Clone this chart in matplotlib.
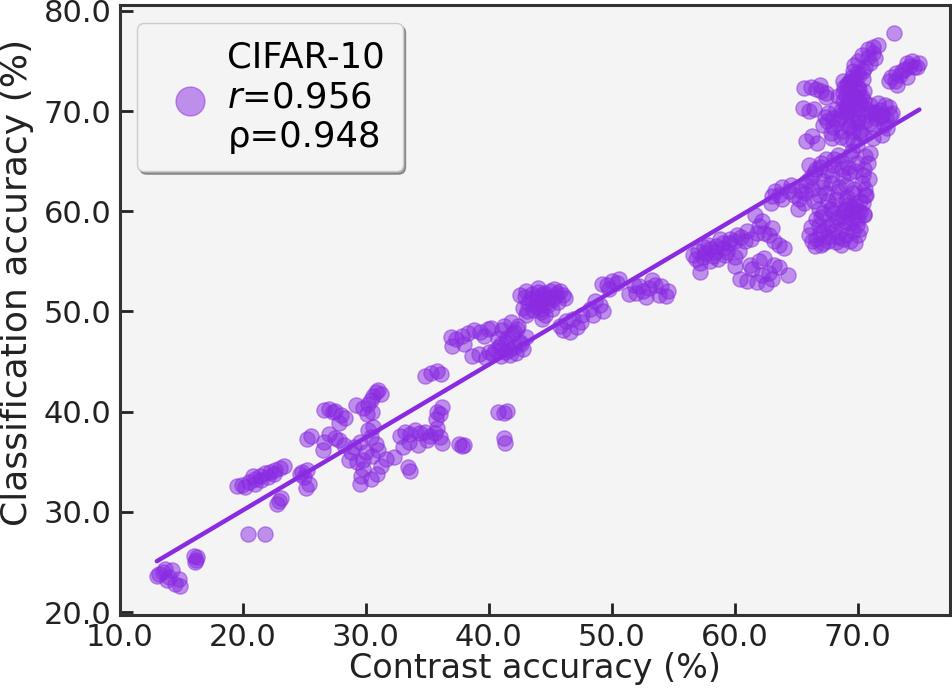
import numpy as np
import matplotlib.pyplot as plt

# contrast accuracy (x) and classification accuracy (y), grouped by cluster
contrast_acc = [
	13.0, 13.5, 13.8, 14.2, 14.5, 14.8, 13.2, 14.0, 14.9, 13.7,
	16.0, 16.2, 16.3, 16.1,
	20.4, 21.8,
	19.5, 19.9, 20.5, 21.0, 21.4, 21.8, 22.2, 22.6, 23.0, 23.3, 21.0, 21.5, 22.0, 20.8, 22.5, 20.2,
	22.8, 23.1, 22.9,
	24.8, 25.2, 25.0, 25.4, 25.1, 24.6,
	25.2, 26.6, 27.0, 27.5, 27.8, 28.2, 26.5, 25.5,
	26.6, 27.0, 27.5, 28.0, 28.3, 27.8, 27.3,
	29.2, 29.8, 30.2, 30.4, 30.6, 30.8, 31.0, 30.5, 30.1, 31.2,
	29.0, 29.5, 30.2, 30.6, 30.4, 30.8, 31.0, 30.5, 29.8, 29.3, 28.6, 29.8, 30.4, 30.9, 29.5, 31.2, 31.6, 28.8, 30.0, 29.6,
	32.3,
	32.8, 33.2, 33.6, 34.0, 34.4, 34.8, 35.2, 35.6, 36.0, 36.2, 33.5, 34.2, 35.0, 33.0, 35.8,
	33.4, 33.6,
	35.7, 36.0, 36.2, 35.8,
	37.6, 38.0, 37.8,
	40.7, 41.2, 41.5, 41.2, 41.3,
	34.8, 35.3, 35.8, 36.1,
	36.9, 37.3, 37.8, 38.3, 38.8, 39.3, 39.9, 38.0, 37.0, 39.6, 40.2,
	38.6, 39.2, 39.8,
	40.5, 41.0, 41.5, 42.0, 41.2, 41.8, 42.5, 42.8, 41.0, 42.2, 40.0, 42.4, 41.6, 43.0, 40.7,
	40.8, 41.4, 41.9, 42.3, 41.1, 41.7, 42.6, 40.3, 41.3, 42.0,
	42.5, 43.0, 43.5, 44.0, 43.2, 43.8, 44.2, 43.0, 44.3, 42.8,
	44.5, 45.0, 45.5, 46.0, 45.2, 44.8, 45.6, 44.2, 44.6, 45.3, 43.9,
	43.4, 43.9, 44.4, 44.9, 45.4, 44.1, 44.7, 45.1, 43.6, 44.3, 45.8, 46.2, 42.9, 43.1, 44.0,
	45.8, 46.3, 46.8, 47.2, 47.6, 46.0, 46.6, 47.5,
	48.2, 48.6, 49.0, 49.3, 48.5, 49.6, 50.0, 50.4, 49.8, 50.6, 49.2,
	51.4, 52.0, 52.5, 53.0, 53.5, 54.0, 53.8, 52.8, 54.4, 52.2, 53.3, 51.8, 54.6,
	56.8, 57.2, 57.6, 58.0, 58.5, 59.0, 59.5, 60.0, 60.5, 57.2, 57.4, 58.2, 59.2, 60.3, 58.8,
	56.6, 57.0, 57.8, 58.4, 59.0, 59.6, 60.2, 60.8, 58.0, 58.6, 59.4, 60.0, 57.5, 61.0, 61.3,
	60.0, 60.4, 61.0, 61.4, 61.8, 62.2, 62.5, 62.8, 63.2, 63.6, 64.3, 62.0, 62.4, 61.2, 63.0,
	61.6, 62.0, 62.4, 62.8, 63.2, 63.6, 62.2, 61.8, 63.0, 64.0,
	65.6, 66.2, 67.0, 67.4, 66.6,
	65.5, 66.0, 66.4,
	65.8, 66.3, 66.7,
	67.5, 68.0, 68.5, 69.0, 69.5, 69.8, 69.4, 69.2, 68.8, 70.0, 70.5, 71.0, 71.5, 72.0, 72.5,
	72.8, 68.2, 67.8, 68.6, 69.6, 70.4, 71.2, 72.0, 70.2, 69.0, 70.0, 68.4, 71.6, 72.4, 67.2,
	68.6, 69.0, 69.3, 69.7, 70.1, 69.5, 68.9, 69.2, 69.8, 70.3, 70.7, 71.1, 71.5, 71.9, 72.3,
	68.3, 68.0, 67.6, 67.9, 68.7, 69.4, 70.0, 70.6, 71.3, 72.1, 69.1, 69.6, 70.2, 69.9, 69.4,
	68.8, 70.5, 71.0, 71.8, 72.6, 67.4, 66.9, 67.3, 69.7, 70.4,
	69.2, 69.6, 70.0, 69.4, 69.8, 70.2, 68.8, 69.1, 69.5, 69.9, 70.4, 70.8, 71.2,
	69.3, 69.7, 70.1, 70.5, 68.6, 71.4, 72.2, 73.6, 74.0, 74.8, 73.1, 72.5,
	69.6, 70.0, 70.3, 70.8, 71.2, 71.6, 70.6, 70.1, 71.0, 69.8, 71.4,
	72.9,
	73.0, 73.4, 73.8, 74.2, 74.6, 75.0, 73.2, 74.0, 74.4, 72.7,
	65.2, 65.8, 66.2, 66.6, 67.0, 67.4, 68.0, 68.6, 69.2, 69.8, 70.4, 70.8, 70.6, 70.2, 69.6, 69.0,
	68.4, 67.8, 67.2, 66.8, 66.4, 65.6, 68.0, 69.0, 70.0, 70.5, 67.6, 68.8, 70.6, 66.0, 69.4, 64.8,
	65.4, 65.9, 66.4, 66.9, 67.5, 68.1, 68.7, 69.3, 69.9, 70.5, 65.7, 66.3, 67.1, 67.9, 68.5,
	69.1, 69.7, 70.3, 70.9, 71.0, 66.8, 67.4, 68.2, 69.0, 69.8, 70.6, 64.6, 65.1, 68.4, 69.5,
	66.0, 66.6, 67.2, 67.8, 68.2, 68.8, 69.4, 70.0, 70.2, 69.6, 69.0, 68.4, 67.6, 66.8, 68.0, 69.2,
	70.4, 67.0, 66.2, 69.8, 68.6, 67.2,
	66.3, 66.9, 67.5, 68.1, 68.7, 69.3, 69.9, 70.5, 66.6, 67.2, 67.8, 68.4, 69.0,
	69.6, 70.2, 67.0, 67.6, 68.2, 68.8, 69.4, 70.0, 66.5, 68.9, 69.5, 70.7,
	63.3, 63.8, 63.6,
	63.0, 63.8, 64.4, 62.9,
]
class_acc = [
	23.6, 24.0, 23.2, 24.2, 22.8, 23.3, 23.8, 23.5, 22.6, 24.3,
	25.6, 25.2, 25.5, 25.0,
	27.8, 27.8,
	32.6, 32.7, 33.0, 33.3, 33.6, 33.9, 34.0, 34.2, 34.4, 34.6, 32.8, 33.2, 33.5, 33.6, 33.8, 32.5,
	30.8, 31.4, 31.1,
	34.0, 34.2, 33.5, 32.8, 32.4, 33.8,
	37.3, 37.0, 37.8, 37.4, 37.2, 36.7, 36.2, 37.6,
	40.2, 40.3, 40.1, 39.7, 39.4, 38.9, 40.0,
	40.7, 40.4, 40.8, 41.2, 41.6, 42.0, 42.2, 40.0, 39.8, 41.8,
	36.5, 37.0, 38.2, 38.5, 37.5, 36.8, 36.2, 35.6, 35.2, 35.0, 35.2, 34.3, 33.3, 33.8, 32.8, 34.6, 35.3, 36.0, 36.0, 33.6,
	35.5,
	37.6, 38.0, 37.8, 38.2, 37.9, 38.0, 37.6, 37.9, 37.5, 36.9, 37.0, 36.7, 37.2, 36.5, 38.4,
	34.5, 34.1,
	39.3, 39.8, 40.5, 40.0,
	36.8, 36.7, 36.6,
	40.0, 39.9, 40.1, 37.4, 36.9,
	43.6, 43.9, 44.1, 43.8,
	47.5, 47.3, 47.6, 47.9, 48.2, 48.0, 48.3, 46.8, 46.6, 47.6, 48.4,
	45.6, 45.8, 45.4,
	46.2, 46.8, 47.4, 48.0, 48.6, 48.9, 47.0, 46.3, 45.6, 45.9, 46.0, 48.6, 46.2, 47.5, 47.4,
	46.5, 47.0, 47.8, 48.3, 48.2, 45.7, 46.8, 45.8, 46.0, 46.5,
	51.6, 52.0, 51.7, 51.9, 50.8, 50.5, 49.9, 49.6, 51.2, 50.3,
	51.8, 52.0, 51.8, 51.6, 51.2, 50.6, 50.9, 50.2, 49.6, 52.2, 50.9,
	51.2, 51.4, 51.6, 51.3, 51.5, 50.6, 50.9, 50.2, 50.1, 49.2, 52.0, 51.3, 51.4, 50.0, 52.3,
	48.6, 49.0, 49.2, 48.5, 49.6, 48.2, 48.0, 48.9,
	50.2, 51.0, 50.6, 50.0, 49.6, 52.6, 53.0, 52.8, 52.2, 53.2, 52.7,
	51.7, 51.8, 52.0, 52.3, 52.6, 52.5, 51.6, 51.4, 51.5, 52.5, 53.1, 52.6, 52.0,
	55.2, 54.8, 55.8, 56.2, 56.5, 56.3, 56.8, 57.0, 57.4, 53.9, 55.4, 55.5, 55.6, 56.0, 57.2,
	55.6, 56.0, 56.6, 55.9, 56.8, 57.2, 57.6, 57.0, 55.0, 55.2, 55.9, 55.4, 56.4, 58.0, 57.2,
	54.5, 53.2, 53.0, 54.2, 52.9, 53.6, 52.7, 53.8, 54.6, 54.4, 53.6, 55.0, 55.3, 54.6, 53.2,
	59.6, 58.5, 57.8, 57.6, 57.0, 56.6, 59.0, 57.8, 58.3, 56.3,
	72.3, 72.4, 72.0, 71.4, 72.2,
	70.3, 70.0, 70.2,
	67.0, 67.5, 66.8,
	69.0, 68.4, 69.2, 70.0, 70.5, 71.2, 72.0, 72.8, 73.0, 69.2, 69.6, 68.8, 69.3, 69.6, 70.4,
	69.8, 70.2, 67.8, 67.4, 68.0, 67.6, 67.3, 67.6, 70.8, 71.6, 72.4, 71.5, 70.8, 68.3, 68.6,
	69.6, 70.4, 71.0, 71.6, 72.2, 73.4, 72.4, 69.9, 70.8, 71.4, 70.2, 69.9, 69.9, 69.4, 69.2,
	68.8, 69.3, 69.8, 67.3, 68.0, 68.5, 68.9, 69.0, 68.4, 68.6, 67.2, 67.0, 67.8, 66.6, 73.0,
	71.0, 72.0, 70.6, 70.1, 69.6, 71.8, 72.6, 69.4, 74.6, 73.2,
	70.8, 71.4, 71.8, 69.5, 70.2, 70.6, 71.8, 72.6, 73.0, 73.8, 74.0, 75.4, 75.8,
	68.4, 69.0, 68.0, 71.0, 70.0, 69.8, 70.6, 74.0, 74.8, 74.4, 73.8, 73.0,
	74.0, 75.0, 75.6, 76.2, 76.4, 76.6, 74.4, 73.6, 74.8, 73.2, 75.3,
	77.8,
	73.0, 73.6, 74.2, 74.5, 74.4, 74.8, 72.6, 73.4, 75.0, 73.4,
	61.2, 62.5, 63.4, 64.2, 64.8, 65.2, 64.6, 65.0, 64.4, 64.0, 63.6, 64.8, 62.2, 61.0, 61.8, 62.6,
	62.0, 62.8, 63.0, 61.6, 61.0, 60.8, 60.5, 60.2, 60.0, 59.7, 61.0, 63.5, 65.5, 64.6, 65.6, 61.6,
	62.0, 63.0, 63.8, 64.4, 64.0, 65.2, 64.2, 63.8, 64.8, 64.2, 61.8, 62.2, 62.4, 63.6, 62.4,
	61.4, 62.2, 62.8, 63.2, 65.8, 60.2, 61.8, 61.2, 61.0, 60.6, 61.6, 62.6, 60.2, 65.6, 66.0,
	57.6, 57.2, 58.0, 58.6, 59.0, 59.4, 59.8, 59.2, 58.2, 58.0, 57.6, 57.4, 57.0, 58.6, 59.8, 60.6,
	60.8, 59.4, 58.4, 56.8, 56.6, 56.8,
	57.0, 57.8, 58.4, 58.0, 58.2, 58.8, 58.6, 59.6, 59.2, 59.8, 60.2, 59.4, 58.9,
	59.2, 59.9, 56.6, 57.4, 56.9, 57.2, 57.0, 57.6, 56.5, 60.0, 60.4, 61.6,
	62.0, 62.4, 61.6,
	61.5, 61.2, 62.0, 60.8,
]
label = "CIFAR-10\n$r$=0.956\nρ=0.948"

x = np.array(contrast_acc)
y = np.array(class_acc)
k, b = np.polyfit(x, y, 1)
xfit = np.array([x.min(), x.max()])

col = "#8a2be2"
plt.rcParams["font.family"] = "DejaVu Sans"
fig = plt.figure(figsize=(9.52, 6.95), dpi=100)
ax = fig.add_axes([0.126, 0.115, 0.872, 0.878])
ax.set_facecolor("#f4f4f4")

ax.scatter(x, y, s=120, color=col, alpha=0.5, edgecolors=col, linewidths=1, label=label)
ax.plot(xfit, k*xfit + b, color=col, lw=3.2, solid_capstyle="round")

ax.set_xlim(10, 77.5)
ax.set_ylim(19.7, 80.6)
ax.set_xticks(np.arange(10, 71, 10))
ax.set_yticks(np.arange(20, 81, 10))
ax.xaxis.set_major_formatter(plt.FormatStrFormatter("%.1f"))
ax.yaxis.set_major_formatter(plt.FormatStrFormatter("%.1f"))
ax.tick_params(direction="in", length=9, width=2, labelsize=22, pad=6, color="#222222", labelcolor="#222222")
for s in ax.spines.values():
	s.set_linewidth(2.2)
	s.set_color("#333333")

ax.set_xlabel("Contrast accuracy (%)", fontsize=24, color="#222222", labelpad=0)
ax.set_ylabel("Classification accuracy (%)", fontsize=26, color="#222222")
ax.yaxis.set_label_coords(-0.104, 0.545)

leg = ax.legend(loc="upper left", fontsize=25.5, markerscale=1.9, shadow=True, fancybox=True,
	framealpha=1, facecolor="#f4f4f4", edgecolor="#cccccc", borderpad=0.5, handletextpad=0.05,
	borderaxespad=0, bbox_to_anchor=(0.0205, 0.970))

fig.savefig("out.png", dpi=100)
